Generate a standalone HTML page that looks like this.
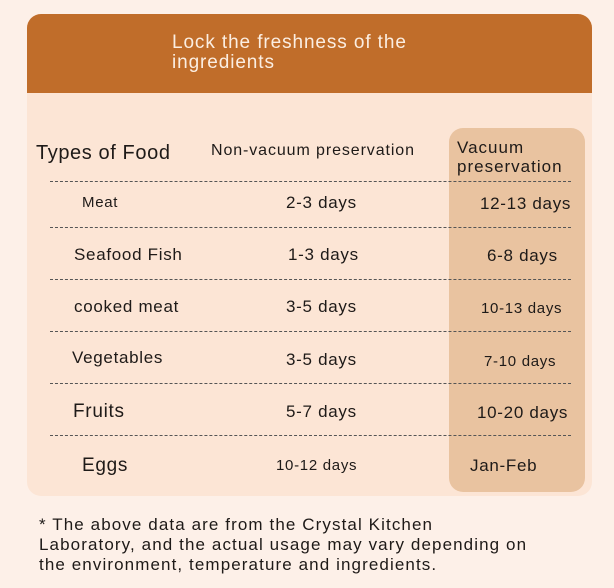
<!DOCTYPE html>
<html><head><meta charset="utf-8"><style>
body{margin:0;width:614px;height:588px;background:#fdf0e8;position:relative;overflow:hidden;font-family:"Liberation Sans","DejaVu Sans",sans-serif;color:#1e1a18}
.card{position:absolute;left:27px;top:14px;width:565px;height:482px;border-radius:14px;background:#fce5d5;overflow:hidden}
.hdr{position:absolute;left:0;top:0;width:565px;height:79px;background:#c06d2a}
.col{position:absolute;left:449px;top:128px;width:136px;height:364px;border-radius:14px;background:#e9c3a0}
.t{position:absolute;white-space:nowrap;line-height:1;letter-spacing:0.7px}
.d{position:absolute;left:50px;width:521px;border-top:1px dashed #555}
</style></head><body>
<div class="card"><div class="hdr"></div></div>
<div class="col"></div>
<div class="t" style="left:172px;top:33px;font-size:19px;color:#fbeee2;line-height:20px;letter-spacing:0.9px">Lock the freshness of the<br>ingredients</div>
<div class="t" style="left:36px;top:143px;font-size:20px;letter-spacing:0.6px">Types of Food</div>
<div class="t" style="left:211px;top:143px;font-size:16px;letter-spacing:0.9px">Non-vacuum preservation</div>
<div class="t" style="left:457px;top:138px;font-size:17px;line-height:19px;letter-spacing:1px">Vacuum<br>preservation</div>
<div class="d" style="top:181px"></div>
<div class="d" style="top:227px"></div>
<div class="d" style="top:279px"></div>
<div class="d" style="top:331px"></div>
<div class="d" style="top:383px"></div>
<div class="d" style="top:435px"></div>
<div class="t" style="left:82px;top:195px;font-size:15px">Meat</div>
<div class="t" style="left:286px;top:194px;font-size:17px">2-3 days</div>
<div class="t" style="left:480px;top:195px;font-size:17px">12-13 days</div>
<div class="t" style="left:74px;top:246px;font-size:17px">Seafood Fish</div>
<div class="t" style="left:288px;top:246px;font-size:17px">1-3 days</div>
<div class="t" style="left:487px;top:247px;font-size:17px">6-8 days</div>
<div class="t" style="left:74px;top:298px;font-size:17px">cooked meat</div>
<div class="t" style="left:286px;top:298px;font-size:17px">3-5 days</div>
<div class="t" style="left:481px;top:301px;font-size:15px">10-13 days</div>
<div class="t" style="left:72px;top:349px;font-size:17px">Vegetables</div>
<div class="t" style="left:286px;top:351px;font-size:17px">3-5 days</div>
<div class="t" style="left:484px;top:354px;font-size:15px">7-10 days</div>
<div class="t" style="left:73px;top:402px;font-size:19px">Fruits</div>
<div class="t" style="left:286px;top:403px;font-size:17px">5-7 days</div>
<div class="t" style="left:477px;top:404px;font-size:17px">10-20 days</div>
<div class="t" style="left:82px;top:456px;font-size:19px">Eggs</div>
<div class="t" style="left:276px;top:458px;font-size:15px">10-12 days</div>
<div class="t" style="left:470px;top:457px;font-size:17px">Jan-Feb</div>
<div class="t" style="left:39px;top:515px;font-size:17px;line-height:20px;letter-spacing:1.1px">* The above data are from the Crystal Kitchen<br>Laboratory, and the actual usage may vary depending on<br>the environment, temperature and ingredients.</div>
</body></html>
